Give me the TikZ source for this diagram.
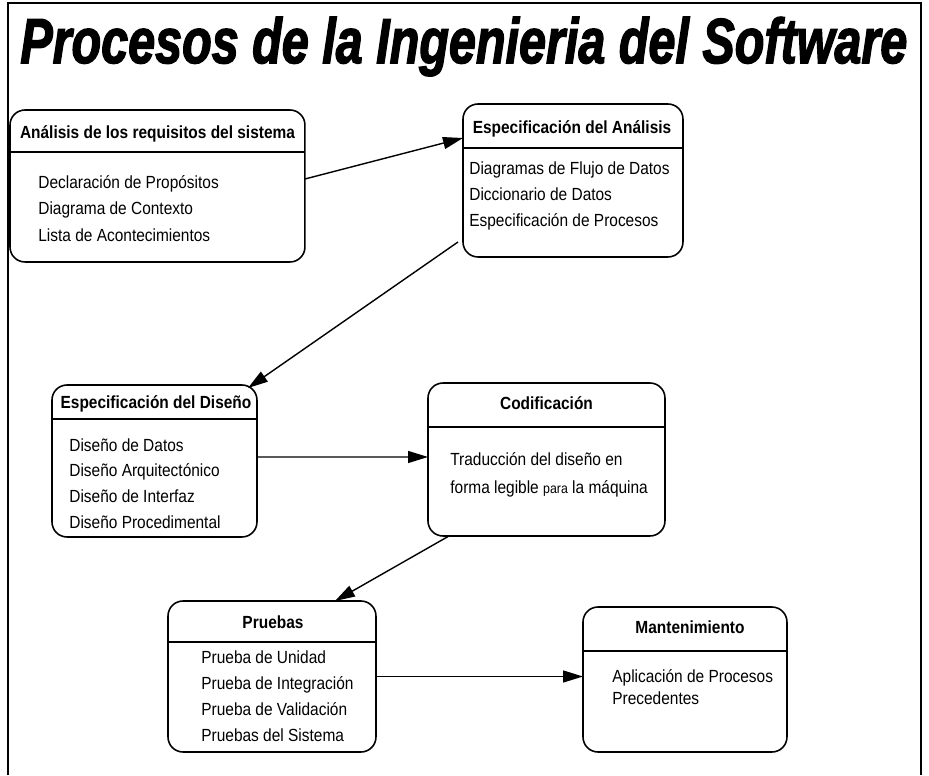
\documentclass[tikz,border=0pt]{standalone}
\usepackage{graphicx}
\usepackage{fontspec}
\setmainfont{Liberation Sans}[FakeStretch=0.88]
\newfontfamily\titlefont{Liberation Sans}[BoldItalicFeatures={FakeBold=2.5}]
\usetikzlibrary{arrows.meta,positioning}
\tikzset{%
	phase/.style     = {draw, rectangle, rounded corners=0.3cm, line width=0.9pt, inner sep=0pt, outer sep=0pt, anchor=north west},
	divider/.style   = {line width=0.8pt},
	phasetitle/.style= {font=\bfseries, inner sep=0pt, anchor=base},
	phaseitem/.style = {inner sep=0pt, anchor=base west},
	arrow/.style     = {line width=0.8pt, -{Triangle[length=0.4cm,width=0.24cm]}},
}
\begin{document}
\begin{tikzpicture}[x=0.02cm,y=-0.02cm]
	\useasboundingbox (0,0) rectangle (929,775);
	
	% frame and title
	\draw[line width=1.3pt] (8,775) -- (8,3) -- (921,3) -- (921,775);
	\node[inner sep=0pt, anchor=base west] (title) at (20,63) {\resizebox{17.74cm}{0.92cm}{\titlefont\bfseries\itshape Procesos de la Ingenieria del Software}};
	
	\begin{scope}
	\node[phase, minimum width=5.9cm, minimum height=3.04cm] (analisis) at (10,110) {};
	\draw[divider] (analisis.west |- 0,152) -- (analisis.east |- 0,152);
	\node[phasetitle] (analisis-t) at (157.5,138) {Análisis de los requisitos del sistema};
	\foreach \txt [count=\i] in {Declaración de Propósitos, Diagrama de Contexto, Lista de Acontecimientos}
		\node[phaseitem] (analisis-\i) at (38,{188+26.5*(\i-1)}) {\txt};
	\end{scope}
	
	\begin{scope}
	\node[phase, minimum width=4.4cm, minimum height=3.06cm] (espanalisis) at (463,104) {};
	\draw[divider] (espanalisis.west |- 0,148) -- (espanalisis.east |- 0,148);
	\node[phasetitle] (espanalisis-t) at (572,133) {Especificación del Análisis};
	\foreach \txt [count=\i] in {Diagramas de Flujo de Datos, Diccionario de Datos, Especificación de Procesos}
		\node[phaseitem] (espanalisis-\i) at (469,{174+26*(\i-1)}) {\txt};
	\end{scope}
	
	\begin{scope}
	\node[phase, minimum width=4.1cm, minimum height=3.04cm] (espdisenio) at (52,385) {};
	\draw[divider] (espdisenio.west |- 0,419) -- (espdisenio.east |- 0,419);
	\node[phasetitle] (espdisenio-t) at (156,408) {Especificación del Diseño};
	\foreach \txt [count=\i] in {Diseño de Datos, Diseño Arquitectónico, Diseño de Interfaz, Diseño Procedimental}
		\node[phaseitem] (espdisenio-\i) at (69,{451+25.7*(\i-1)}) {\txt};
	\end{scope}
	
	\begin{scope}
	\node[phase, minimum width=4.74cm, minimum height=3.06cm] (codificacion) at (428,383) {};
	\draw[divider] (codificacion.west |- 0,427) -- (codificacion.east |- 0,427);
	\node[phasetitle] (codificacion-t) at (546.5,409) {Codificación};
	\foreach \txt [count=\i] in {Traducción del diseño en, forma legible {\footnotesize para} la máquina}
		\node[phaseitem] (codificacion-\i) at (450,{465+28*(\i-1)}) {\txt};
	\end{scope}
	
	\begin{scope}
	\node[phase, minimum width=4.16cm, minimum height=3.02cm] (pruebas) at (168,601) {};
	\draw[divider] (pruebas.west |- 0,642) -- (pruebas.east |- 0,642);
	\node[phasetitle] (pruebas-t) at (273,628) {Pruebas};
	\foreach \txt [count=\i] in {Prueba de Unidad, Prueba de Integración, Prueba de Validación, Pruebas del Sistema}
		\node[phaseitem] (pruebas-\i) at (201,{663+26*(\i-1)}) {\txt};
	\end{scope}
	
	\begin{scope}
	\node[phase, minimum width=4.08cm, minimum height=2.9cm] (mantenimiento) at (583,607) {};
	\draw[divider] (mantenimiento.west |- 0,651) -- (mantenimiento.east |- 0,651);
	\node[phasetitle] (mantenimiento-t) at (690,633) {Mantenimiento};
	\foreach \txt [count=\i] in {Aplicación de Procesos, Precedentes}
		\node[phaseitem] (mantenimiento-\i) at (612,{682+22*(\i-1)}) {\txt};
	\end{scope}
	
	% connectors
	\draw[arrow] ([yshift=0.14cm]analisis.east) -- ([yshift=0.85cm]espanalisis.west);
	\draw[arrow] ([xshift=-0.1cm,yshift=0.3cm]espanalisis.south west) -- ([xshift=-0.18cm,yshift=-0.06cm]espdisenio.north east);
	\draw[arrow] ([yshift=0.08cm]espdisenio.east) -- ([yshift=0.05cm]codificacion.west);
	\draw[arrow] ([xshift=0.42cm]codificacion.south west) -- ([xshift=-0.82cm]pruebas.north east);
	\draw[arrow] (pruebas.east) -- (pruebas.east -| mantenimiento.west);
\end{tikzpicture}
\end{document}
